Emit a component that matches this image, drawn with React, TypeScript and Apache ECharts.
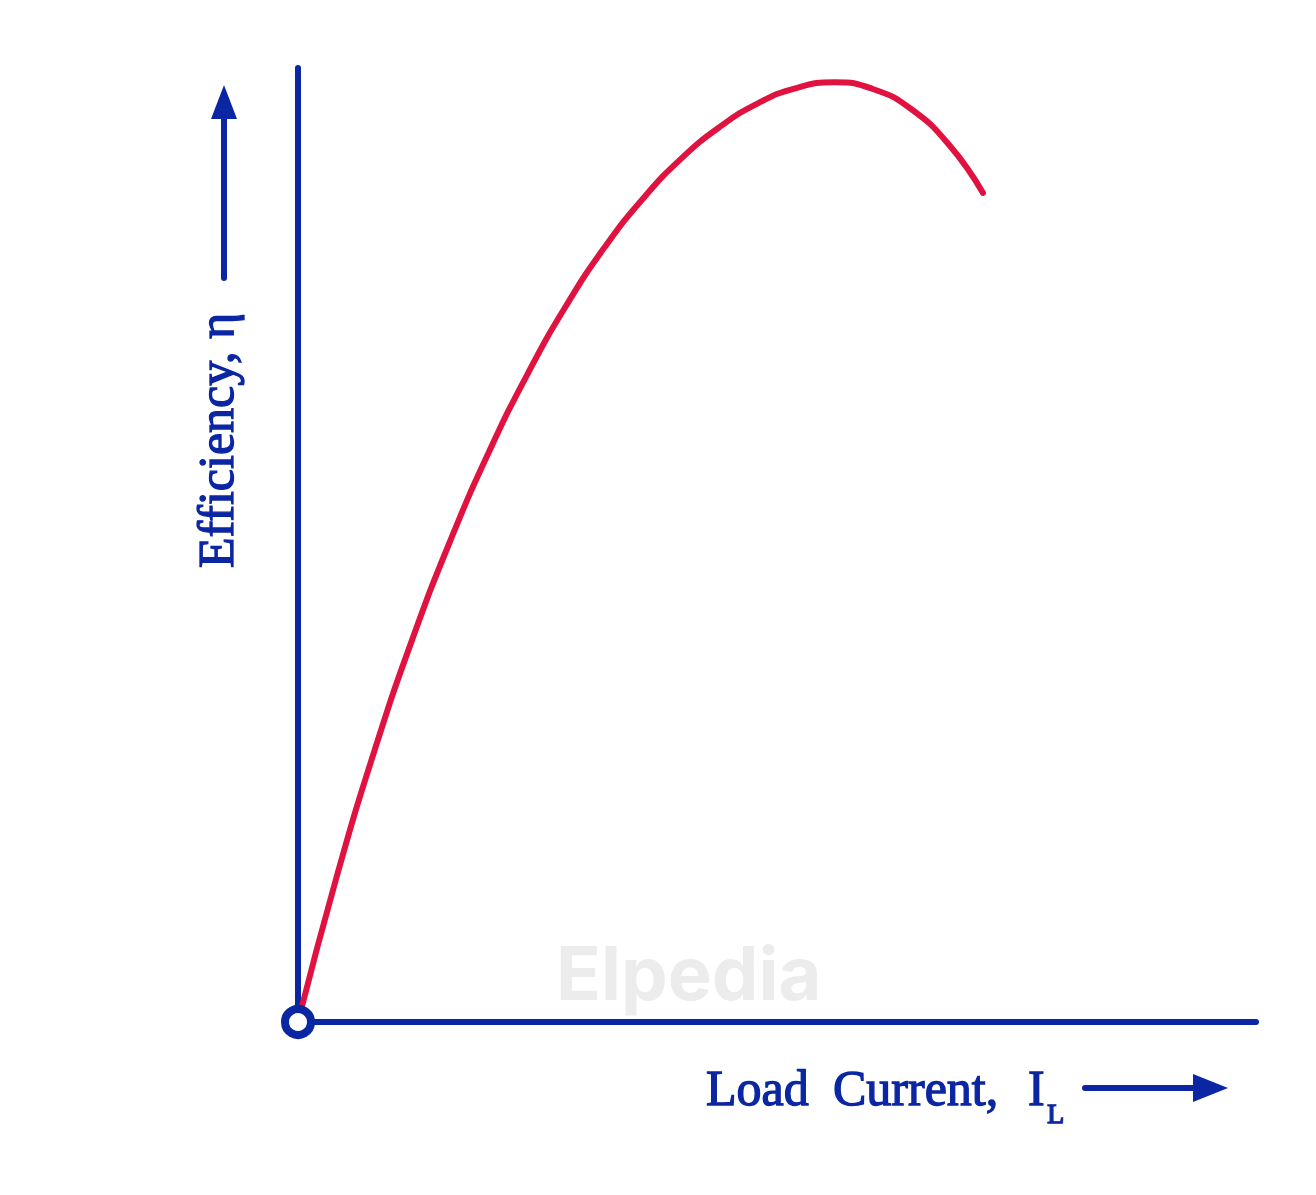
import React, { useEffect, useRef } from "react";
import * as echarts from "echarts";

// Efficiency curve (load current %, efficiency %)
const loadCurrent = [0, 4, 8, 12, 16, 20, 24, 28, 32, 36, 40, 44, 48, 52, 56, 60, 64, 68, 71.5];
const efficiency = [0, 15.1, 28.5, 40.3, 50.7, 59.9, 68.0, 75.1, 81.2, 86.3, 90.5, 93.8, 96.3, 97.9, 98.5, 97.8, 95.7, 91.9, 86.9];
const origin = [[0, 0]];

const xLabelParts = ["Load", "Current,", "I"];
const xSub = "L";
const yLabel = "Efficiency, η";
const watermark = "Elpedia";

const BLUE = "#0b26a3";
const RED = "#e0123f";
const FONT = "'Liberation Serif', 'DejaVu Serif', serif";

export default function App() {
  const ref = useRef<HTMLDivElement>(null);
  useEffect(() => {
    if (!ref.current) return;
    const chart = echarts.init(ref.current, null, { renderer: "svg" });
    const curve = loadCurrent.map((x, i) => [x, efficiency[i]]);
    const txt = (text: string, x: number, y: number, size: number, extra: any = {}) => ({
      type: "text",
      x,
      y,
      z: 10,
      ...extra,
      style: {
        text,
        fill: BLUE,
        font: `${size}px ${FONT}`,
        textAlign: "left",
        textVerticalAlign: "middle",
        stroke: BLUE,
        lineWidth: 1.3,
      },
    });
    chart.setOption({
      animation: false,
      backgroundColor: "#ffffff",
      grid: { left: 298, top: 68, right: 60, bottom: 173, containLabel: false, outerBoundsMode: "none" },
      xAxis: {
        type: "value",
        min: 0,
        max: 100,
        axisLine: { show: true, lineStyle: { color: BLUE, width: 6, cap: "round" } },
        axisTick: { show: false },
        axisLabel: { show: false },
        splitLine: { show: false },
      },
      yAxis: {
        type: "value",
        min: 0,
        max: 100,
        axisLine: { show: true, lineStyle: { color: BLUE, width: 6, cap: "round" } },
        axisTick: { show: false },
        axisLabel: { show: false },
        splitLine: { show: false },
      },
      series: [
        {
          type: "line",
          data: curve,
          smooth: 0.5,
          showSymbol: false,
          lineStyle: { color: RED, width: 6, cap: "round" },
          z: 3,
        },
        {
          type: "scatter",
          data: origin,
          symbol: "circle",
          symbolSize: 26,
          itemStyle: { color: "#ffffff", borderColor: BLUE, borderWidth: 8, opacity: 1 },
          z: 5,
        },
      ],
      graphic: [
        {
          type: "text",
          x: 556,
          y: 973,
          z: 0,
          style: {
            text: watermark,
            fill: "#ececec",
            font: "bold 74px Inter, Roboto, sans-serif",
            textAlign: "left",
            textVerticalAlign: "middle",
          },
        },
        txt(xLabelParts[0], 706, 1088, 50),
        txt(xLabelParts[1], 833, 1088, 50),
        txt(xLabelParts[2], 1028, 1088, 50),
        txt(xSub, 1047, 1113, 28),
        {
          type: "line",
          shape: { x1: 1085, y1: 1088, x2: 1200, y2: 1088 },
          style: { stroke: BLUE, lineWidth: 6, lineCap: "round" },
        },
        {
          type: "polygon",
          shape: { points: [[1228, 1088], [1193, 1074], [1193, 1102]] },
          style: { fill: BLUE },
        },
        txt(yLabel, 216, 568, 50, { rotation: Math.PI / 2 }),
        {
          type: "line",
          shape: { x1: 224, y1: 278, x2: 224, y2: 112 },
          style: { stroke: BLUE, lineWidth: 6, lineCap: "round" },
        },
        {
          type: "polygon",
          shape: { points: [[224, 85], [211, 119], [237, 119]] },
          style: { fill: BLUE },
        },
      ],
    });
    return () => chart.dispose();
  }, []);
  return (
    <div
      ref={ref}
      style={{ position: "absolute", left: 0, top: 0, width: 1316, height: 1195 }}
    />
  );
}
